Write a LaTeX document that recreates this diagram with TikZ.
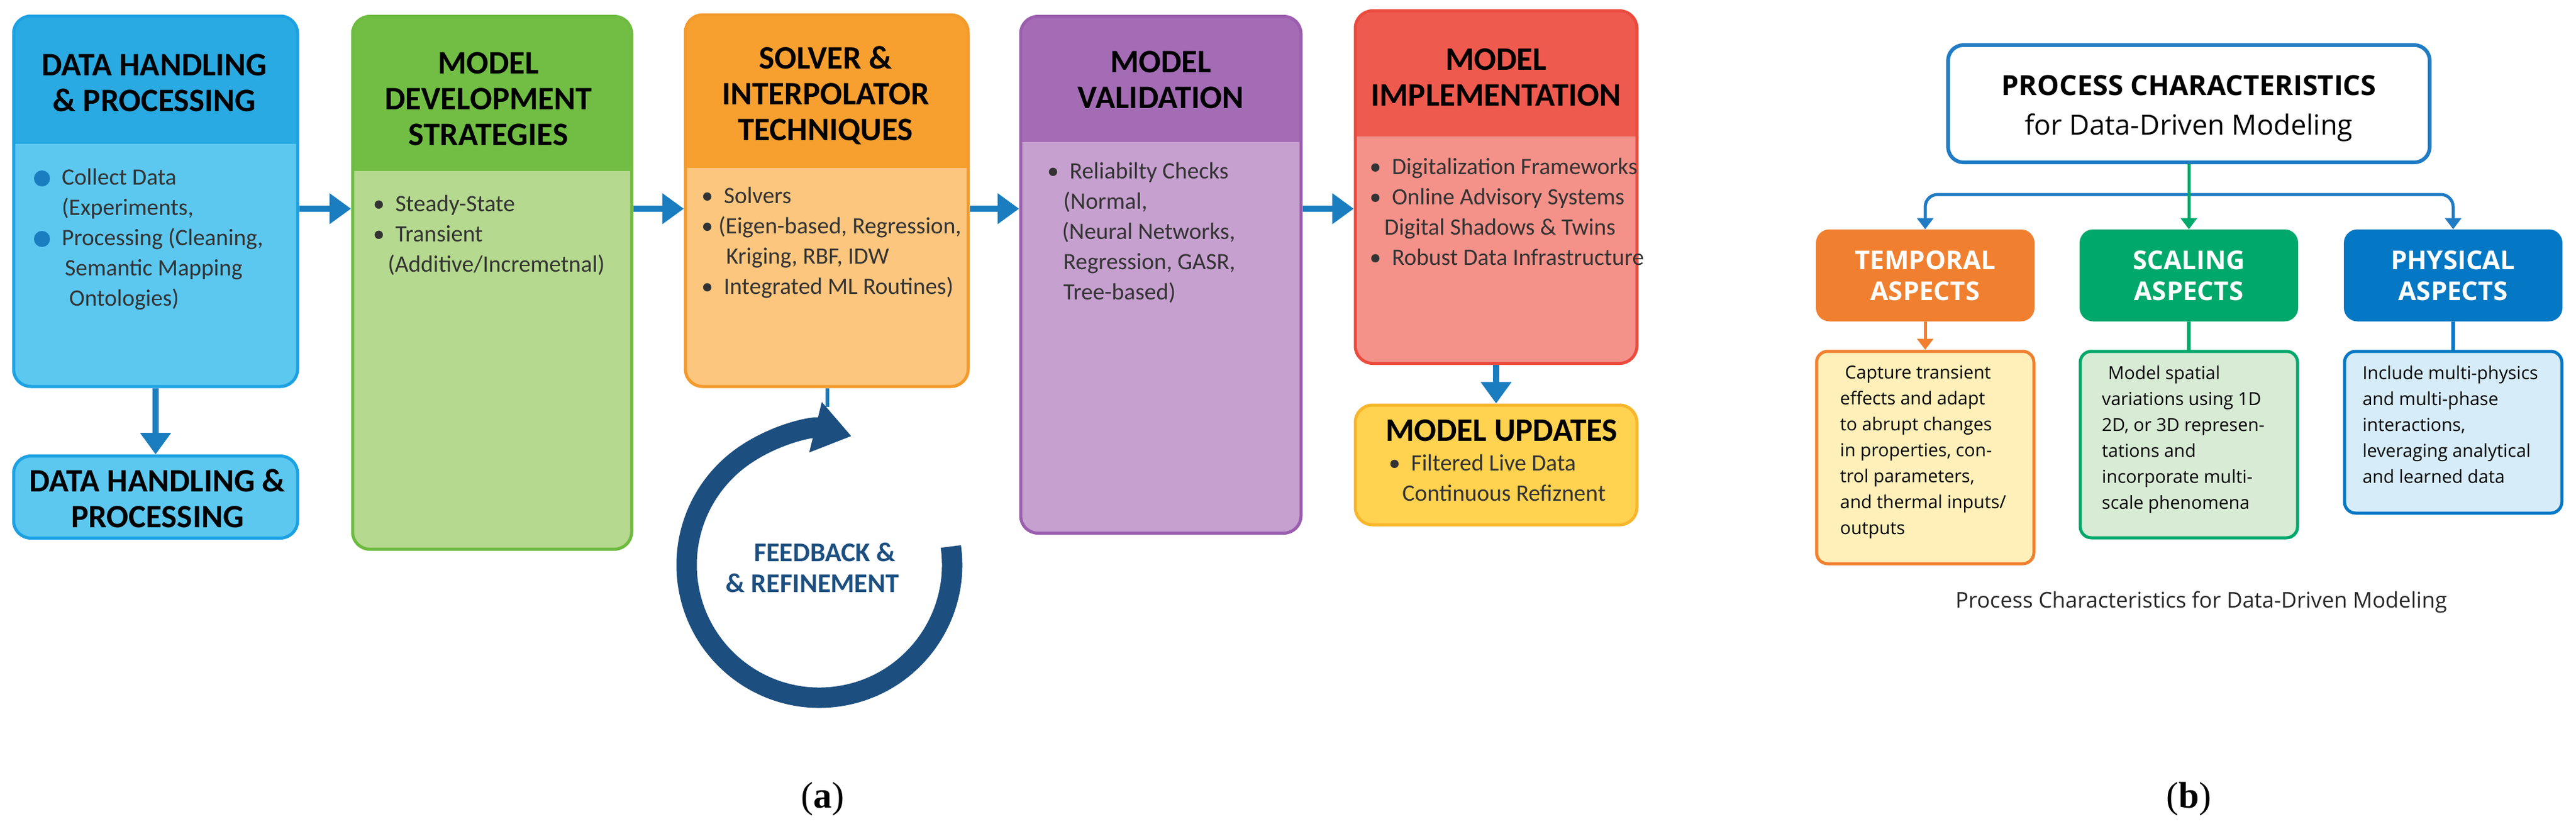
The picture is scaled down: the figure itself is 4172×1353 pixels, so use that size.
\documentclass[tikz,border=0pt]{standalone}
\usepackage{fontspec}
\setmainfont{Carlito}
\newfontfamily\osans{Open Sans}
\newfontfamily\tms{Liberation Serif}
\usetikzlibrary{arrows.meta}
\definecolor{bHd}{HTML}{2AAAE2}\definecolor{bBd}{HTML}{5CC8F0}\definecolor{bBr}{HTML}{1BA1E2}
\definecolor{gHd}{HTML}{72BE44}\definecolor{gBd}{HTML}{B5D98E}\definecolor{gBr}{HTML}{6DBB3F}
\definecolor{oHd}{HTML}{F7A030}\definecolor{oBd}{HTML}{FCC67E}\definecolor{oBr}{HTML}{F39A2B}
\definecolor{pHd}{HTML}{A46CB5}\definecolor{pBd}{HTML}{C6A0CF}\definecolor{pBr}{HTML}{9B5EAE}
\definecolor{rHd}{HTML}{EF5A4E}\definecolor{rBd}{HTML}{F4928A}\definecolor{rBr}{HTML}{EB4B3E}
\definecolor{yBd}{HTML}{FFD24F}\definecolor{yBr}{HTML}{F8B62B}
\definecolor{arw}{HTML}{1A7DBF}\definecolor{navy}{HTML}{1C4F80}
\definecolor{tOr}{HTML}{F08030}\definecolor{tLt}{HTML}{FEF0B8}
\definecolor{sGr}{HTML}{00A86B}\definecolor{sLt}{HTML}{D8EBD5}
\definecolor{pBl}{HTML}{0478C4}\definecolor{pLt}{HTML}{D6ECF8}
\definecolor{topBl}{HTML}{1F7BC4}
\begin{document}
\begin{tikzpicture}[x=1pt,y=-1pt,
  abox/.style n args={4}{draw=#1, fill=#2, line width=5pt, rounded corners=28pt,
    path picture={\fill[#3, sharp corners] (path picture bounding box.north west) rectangle ([yshift=-#4]path picture bounding box.north east);}},
  hd/.style={font=\fontsize{53}{58}\selectfont\bfseries, align=center, text=black},
  bd/.style={font=\fontsize{38}{49}\selectfont, align=left, anchor=north west, inner sep=0pt, text=black!80},
  flow/.style={draw=arw, line width=10pt, -{Triangle[length=35pt,width=48pt]}},
  ohd/.style={font=\osans\fontsize{42}{50}\selectfont\bfseries, align=center, text=white, inner sep=0pt},
  obd/.style={font=\osans\fontsize{29}{42}\selectfont, align=left, anchor=north west, inner sep=0pt, text=black},
  hbox/.style={fill=#1, rounded corners=22pt, minimum width=354pt, minimum height=149pt},
  tbox/.style n args={2}{draw=#1, fill=#2, line width=5pt, rounded corners=18pt, minimum width=352pt}
]
\useasboundingbox (0,0) rectangle (4172,1353);
% ---------- panel (a)
\node[abox={bBr}{bBd}{bHd}{207pt}, minimum width=460pt, minimum height=600pt] (b1) at (252,326) {};
\node[abox={gBr}{gBd}{gHd}{250pt}, minimum width=452pt, minimum height=863pt] (b2) at (797,458) {};
\node[abox={oBr}{oBd}{oHd}{248pt}, minimum width=458pt, minimum height=602pt] (b3) at (1339,325) {};
\node[abox={pBr}{pBd}{pHd}{203pt}, minimum width=454pt, minimum height=837pt] (b4) at (1880,445) {};
\node[abox={rBr}{rBd}{rHd}{203pt}, minimum width=456pt, minimum height=571pt] (b5) at (2423,303) {};
\node[draw=yBr, fill=yBd, line width=5pt, rounded corners=28pt, minimum width=456pt, minimum height=194pt] (b6) at (2423,753) {};
\node[draw=bBr, fill=bBd, line width=5pt, rounded corners=28pt, minimum width=460pt, minimum height=133pt] (bs) at (252,805) {};

\node[hd] (t1) at (250,134) {DATA HANDLING\\\& PROCESSING};
\node[hd] (t2) at (791,160) {MODEL\\DEVELOPMENT\\STRATEGIES};
\node[hd] (t3) at (1337,155) {SOLVER \&\\INTERPOLATOR\\TECHNIQUES};
\node[hd] (t4) at (1880,129) {MODEL\\VALIDATION};
\node[hd] (t5) at (2423,125) {MODEL\\IMPLEMENTATION};
\node[hd] (t6) at (2432,697) {MODEL UPDATES};
\node[hd] (ts) at (255,807) {DATA HANDLING \&\\PROCESSING};

\node[circle, fill=arw, minimum size=26pt, inner sep=0pt] (ic1) at (68,289) {};
\node[circle, fill=arw, minimum size=26pt, inner sep=0pt] (ic2) at (68,387) {};
\node[bd] (x1) at (100,273) {Collect Data\\(Experiments,\\Processing (Cleaning,\\\hspace*{5pt}Semantic Mapping\\\hspace*{12pt}Ontologies)};
\node[bd] (x2) at (604,316) {\textbullet\ \ Steady-State\\\textbullet\ \ Transient\\\hspace*{24pt}(Additive/Incremetnal)};
\node[bd] (x3) at (1136,303) {\textbullet\ \ Solvers\\\textbullet\ (Eigen-based, Regression,\\\hspace*{40pt}Kriging, RBF, IDW\\\textbullet\ \ Integrated ML Routines)};
\node[bd] (x4) at (1696,263) {\textbullet\ \ Reliabilty Checks\\\hspace*{26pt}(Normal,\\\hspace*{24pt}(Neural Networks,\\\hspace*{26pt}Regression, GASR,\\\hspace*{26pt}Tree-based)};
\node[bd] (x5) at (2218,256) {\textbullet\ \ Digitalization Frameworks\\\textbullet\ \ Online Advisory Systems\\\hspace*{24pt}Digital Shadows \& Twins\\\textbullet\ \ Robust Data Infrastructure};
\node[bd] (x6) at (2249,736) {\textbullet\ \ Filtered Live Data\\\hspace*{22pt}Continuous Refiznent};

\coordinate (row) at (0,338);
\draw[flow] (b1.east |- row) -- (b2.west |- row);
\draw[flow] (b2.east |- row) -- (b3.west |- row);
\draw[flow] (b3.east |- row) -- (b4.west |- row);
\draw[flow] (b4.east |- row) -- (b5.west |- row);
\draw[flow] (b1.south) -- (bs.north);
\draw[flow] (b5.south) -- (b6.north);

\coordinate (fc) at (1327,915);
\draw[arw, line width=6pt] (b3.south -| 1340,0) -- ++(0,30);
\draw[navy, line width=33pt, -{Triangle[length=60pt,width=80pt]}] ([shift={(-8:215)}]fc) arc[start angle=-8, end angle=284, radius=215];
\node[font=\fontsize{44}{50}\selectfont\bfseries, text=navy, align=center] (fb) at (1316,919) {\hspace*{40pt}FEEDBACK \&\\\& REFINEMENT};
\node[font=\tms\fontsize{60}{60}\selectfont] (ca) at (1332,1294) {(\textbf{a})};

% ---------- panel (b)
\node[draw=topBl, fill=white, line width=6pt, rounded corners=25pt, minimum width=780pt, minimum height=190pt] (top) at (3545,168) {};
\node[font=\osans\fontsize{45}{50}\selectfont\bfseries] (tt1) at (3545,138) {PROCESS CHARACTERISTICS};
\node[font=\osans\fontsize{45}{50}\selectfont] (tt2) at (3545,207) {for Data-Driven Modeling};

\node[hbox=tOr] (th) at (3118,446) {};
\node[hbox=sGr] (sh) at (3545,446) {};
\node[hbox=pBl] (ph) at (3973,446) {};
\node[ohd] at (th) {TEMPORAL\\ASPECTS};
\node[ohd] at (sh) {SCALING\\ASPECTS};
\node[ohd] at (ph) {PHYSICAL\\ASPECTS};

\node[tbox={tOr}{tLt}, minimum height=344pt] (tb) at (3118,741) {};
\node[tbox={sGr}{sLt}, minimum height=302pt] (sb) at (3545,720) {};
\node[tbox={pBl}{pLt}, minimum height=262pt] (pb) at (3973,700) {};
\node[obd] (tx) at (2980,592) {\hspace*{8pt}Capture transient\\effects and adapt\\to abrupt changes\\in properties, con-\\trol parameters,\\and thermal inputs/\\outputs};
\node[obd] (sx) at (3404,592) {\hspace*{10pt}Model spatial\\variations using 1D\\2D, or 3D represen-\\tations and\\incorporate multi-\\scale phenomena};
\node[obd] (px) at (3826,592) {Include multi-physics\\and multi-phase\\interactions,\\leveraging analytical\\and learned data};

\coordinate (br) at (3545,315);
\draw[topBl, line width=5pt, rounded corners=20pt, -{Triangle[length=18pt,width=26pt]}] (br) -| (th.north);
\draw[topBl, line width=5pt, rounded corners=20pt, -{Triangle[length=18pt,width=26pt]}] (br) -| (ph.north);
\draw[sGr, line width=5pt, -{Triangle[length=18pt,width=26pt]}] (top.south) -- (sh.north);
\draw[tOr, line width=5pt, -{Triangle[length=18pt,width=26pt]}] (th.south) -- (tb.north);
\draw[sGr, line width=6pt] (sh.south) -- (sb.north);
\draw[pBl, line width=6pt] (ph.south) -- (pb.north);

\node[font=\osans\fontsize{35}{40}\selectfont, text=black!85] (cap) at (3565,975) {Process Characteristics for Data-Driven Modeling};
\node[font=\tms\fontsize{60}{60}\selectfont] (cb) at (3545,1294) {(\textbf{b})};
\end{tikzpicture}
\end{document}
